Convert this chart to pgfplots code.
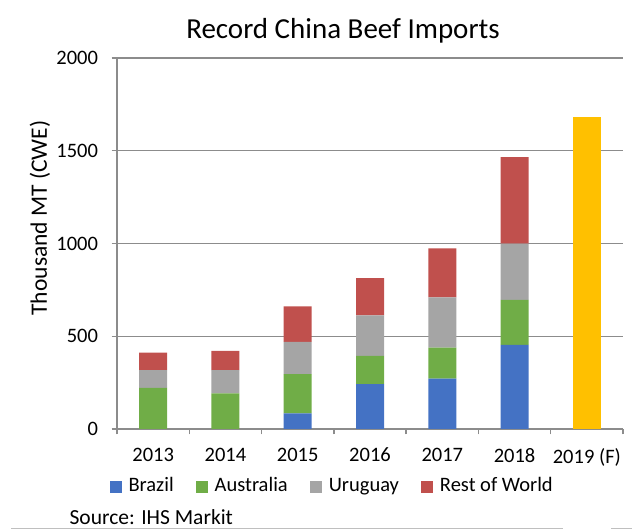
\documentclass[border=0pt]{standalone}
\usepackage{pgfplots}
\pgfplotsset{compat=1.18}
\usepackage{fontspec}
\setmainfont{Carlito}
\definecolor{cBrazil}{HTML}{4472C4}
\definecolor{cAus}{HTML}{70AD47}
\definecolor{cUru}{HTML}{A5A5A5}
\definecolor{cRow}{HTML}{C0504D}
\definecolor{cFc}{HTML}{FFC000}
\definecolor{cAxis}{HTML}{8C8C8C}
\begin{document}
\begin{tikzpicture}[x=1pt,y=1pt]
\path[use as bounding box] (0,0) rectangle (632,529);
\begin{axis}[
  at={(117pt,100pt)}, anchor=south west,
  scale only axis, width=506pt, height=371pt,
  xmin=-0.5, xmax=6.5, ymin=0, ymax=2000,
  ybar stacked, bar width=28pt,
  axis lines*=left,
  axis line style={cAxis, line width=1.3pt},
  ytick={0,500,1000,1500,2000},
  ymajorgrids, grid style={cAxis, line width=1.3pt},
  xtick={0,...,6},
  xticklabels={2013,2014,2015,2016,2017,2018,2019 (F)},
  major tick length=5.5pt, tick align=outside,
  xtick style={draw=none},
  ytick style={draw=cAxis, line width=1.3pt},
  extra x ticks={-0.5,0.5,1.5,2.5,3.5,4.5,5.5,6.5},
  extra x tick labels={},
  extra x tick style={xtick style={draw=cAxis, line width=1.3pt}, grid=none},
  tick label style={font=\fontsize{20.5}{24}\selectfont, text=black},
  /pgf/number format/assume math mode=true,
  scaled y ticks=false,
  yticklabel style={/pgf/number format/1000 sep={}, xshift=-10pt},
  xticklabel style={yshift=-10pt},
  legend style={at={(-0.0152,-0.161)}, anchor=west, draw=none, legend columns=4,
    font=\fontsize{20.5}{24}\selectfont, inner sep=0pt,
    nodes={text height=0.75em, text depth=0.22em},
    /tikz/every odd column/.append style={column sep=5pt},
    /tikz/every even column/.append style={column sep=20pt}},
  legend image code/.code={\fill[#1] (0pt,-4pt) rectangle (12pt,8pt);},
  clip=false,
]
\addplot[fill=cBrazil, draw=none] coordinates {(0,0) (1,0) (2,84) (3,242) (4,272) (5,453) (6,0)};
\addplot[fill=cAus, draw=none] coordinates {(0,222) (1,192) (2,212) (3,152) (4,166) (5,243) (6,0)};
\addplot[fill=cUru, draw=none] coordinates {(0,95) (1,125) (2,173) (3,219) (4,271) (5,303) (6,0)};
\addplot[fill=cRow, draw=none] coordinates {(0,95) (1,104) (2,192) (3,200) (4,265) (5,466) (6,0)};
\addplot[fill=cFc, draw=none, forget plot] coordinates {(0,0) (1,0) (2,0) (3,0) (4,0) (5,0) (6,1682)};
\legend{Brazil, Australia, Uruguay, Rest of World}
\end{axis}
\node[font=\fontsize{29}{34}\selectfont, anchor=base] at (343,490.7) {Record China Beef Imports};
\node[font=\fontsize{23.5}{28}\selectfont, rotate=90] at (40,311) {Thousand MT (CWE)};
\node[font=\fontsize{21.5}{26}\selectfont, anchor=base west, inner sep=0pt] at (69.4,4.5) {Source: IHS Markit};
\draw[black!25, line width=0.8pt] (11,1) -- (562,1) -- (562,0);
\draw[black!25, line width=0.8pt] (611,0) -- (611,1) -- (632,1);
\end{tikzpicture}
\end{document}
